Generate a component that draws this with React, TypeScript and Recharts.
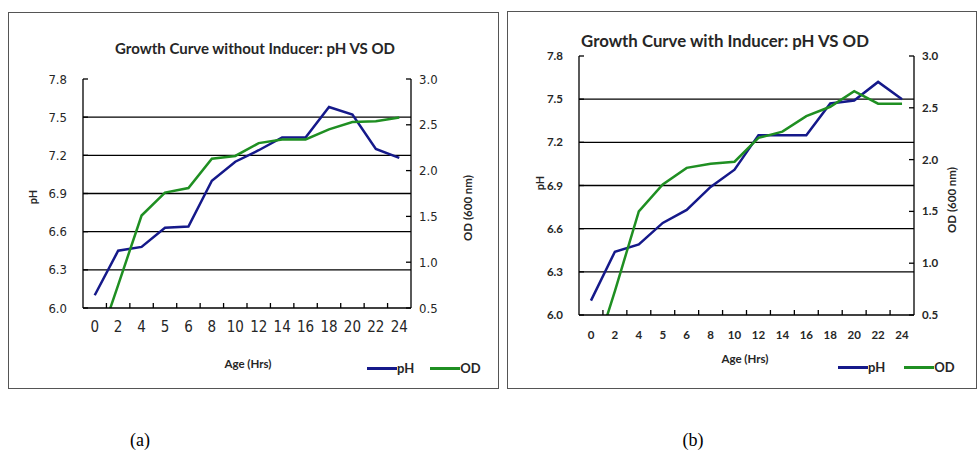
import React from 'react';
import { LineChart, Line, XAxis, YAxis, ReferenceLine, Legend } from 'recharts';

// ---------- data ----------
const hours = ['0', '2', '4', '5', '6', '8', '10', '12', '14', '16', '18', '20', '22', '24'];

const phWithout = [6.1, 6.45, 6.48, 6.63, 6.64, 7.0, 7.15, 7.24, 7.34, 7.34, 7.58, 7.52, 7.25, 7.18];
const odWithout = [0.0, 0.75, 1.51, 1.76, 1.81, 2.13, 2.16, 2.3, 2.34, 2.34, 2.45, 2.53, 2.54, 2.58];

const phWith = [6.1, 6.44, 6.49, 6.64, 6.73, 6.89, 7.01, 7.25, 7.25, 7.25, 7.47, 7.49, 7.62, 7.5];
const odWith = [0.0, 0.73, 1.5, 1.76, 1.92, 1.96, 1.98, 2.21, 2.27, 2.42, 2.51, 2.66, 2.54, 2.54];

const phTicks = [6.0, 6.3, 6.6, 6.9, 7.2, 7.5, 7.8];
const phGridLines = [6.3, 6.6, 6.9, 7.2, 7.5];
const odTicks = [0.5, 1.0, 1.5, 2.0, 2.5, 3.0];

const seriesOrder = ['pH', 'OD'];
const titleWithout = 'Growth Curve without Inducer: pH VS OD';
const titleWith = 'Growth Curve with Inducer: pH VS OD';
const xTitle = 'Age (Hrs)';
const yLeftTitle = 'pH';
const yRightTitle = 'OD (600 nm)';
const captions = ['(a)', '(b)'];

const buildRows = (ph: number[], od: number[]) =>
  hours.map((h, i) => ({ hour: h, pH: ph[i], OD: od[i] }));

const dataWithout = buildRows(phWithout, odWithout);
const dataWith = buildRows(phWith, odWith);

// ---------- styles ----------
const BLUE = '#15198a';
const GREEN = '#1f8f22';
const CAL = "Lato, 'Open Sans', sans-serif";
const NARROW = "'Liberation Sans Narrow', 'DejaVu Sans Condensed', 'Liberation Sans', sans-serif";
const Y_AXIS_W = 50;

type PanelProps = {
  data: { hour: string; pH: number; OD: number }[];
  left: number;
  top: number;
  width: number;
  height: number;
  margin: { top: number; right: number; bottom: number; left: number };
  title: string;
  titlePos: [number, number];
  titleSize: number;
  yTitlePos: [number, number];
  odTitlePos: [number, number];
  xTitlePos: [number, number];
  legendPos: [number, number];
  legendGap: number;
  tickFont: { fontFamily: string; fontWeight: number | string; ySize: number; xSize: number };
};

const Panel: React.FC<PanelProps> = (p) => {
  const tickStyleY = {
    fontFamily: p.tickFont.fontFamily,
    fontWeight: p.tickFont.fontWeight,
    fontSize: p.tickFont.ySize,
    fill: '#262626',
  };
  const plotW = p.width - p.margin.left - p.margin.right - 2 * Y_AXIS_W;
  const bandHalf = plotW / hours.length / 2;
  const XTick = (props: any) => {
    const { x, y, payload, index } = props;
    const half =
      payload && typeof payload.offset === 'number' && payload.offset > 0 ? payload.offset : bandHalf;
    return (
      <g>
        <text
          x={x}
          y={y + 19}
          textAnchor="middle"
          dominantBaseline="central"
          fontFamily={p.tickFont.fontFamily}
          fontWeight={p.tickFont.fontWeight}
          fontSize={p.tickFont.xSize}
          fill="#262626"
        >
          {payload.value}
        </text>
        {index < hours.length - 1 ? (
          <line x1={x + half} x2={x + half} y1={y} y2={y - 5} stroke="#000" strokeWidth={1.3} />
        ) : null}
      </g>
    );
  };
  const axisTitle: React.CSSProperties = {
    position: 'absolute',
    fontFamily: CAL,
    fontWeight: 700,
    color: '#262626',
    whiteSpace: 'nowrap',
    lineHeight: 1,
  };
  return (
    <div style={{ position: 'absolute', left: p.left, top: p.top, width: p.width, height: p.height }}>
      <div
        style={{
          position: 'absolute',
          left: p.titlePos[0],
          top: p.titlePos[1],
          transform: 'translate(-50%, -50%)',
          fontFamily: CAL,
          fontWeight: 700,
          fontSize: p.titleSize,
          color: '#262626',
          whiteSpace: 'nowrap',
          lineHeight: 1,
        }}
      >
        {p.title}
      </div>
      <div style={{ position: 'absolute', left: 0, top: 0 }}>
        <LineChart width={p.width} height={p.height} data={p.data} margin={p.margin}>
          <XAxis
            dataKey="hour"
            scale="band"
            interval={0}
            tickLine={false}
            tickSize={0}
            tickMargin={0}
            height={30}
            axisLine={{ stroke: '#000', strokeWidth: 1.3 }}
            tick={XTick}
          />
          <YAxis
            yAxisId="left"
            domain={[6.0, 7.8]}
            ticks={phTicks}
            allowDataOverflow
            width={Y_AXIS_W}
            tickSize={-5}
            tickMargin={21}
            tickFormatter={(v: number) => v.toFixed(1)}
            tick={tickStyleY}
            tickLine={{ stroke: '#000', strokeWidth: 1.3 }}
            axisLine={{ stroke: '#000', strokeWidth: 1.3 }}
          />
          <YAxis
            yAxisId="right"
            orientation="right"
            domain={[0.5, 3.0]}
            ticks={odTicks}
            allowDataOverflow
            width={Y_AXIS_W}
            tickSize={-5}
            tickMargin={13}
            tickFormatter={(v: number) => v.toFixed(1)}
            tick={tickStyleY}
            tickLine={{ stroke: '#000', strokeWidth: 1.3 }}
            axisLine={{ stroke: '#000', strokeWidth: 1.3 }}
          />
          {phGridLines.map((v) => (
            <ReferenceLine key={v} yAxisId="left" y={v} stroke="#000" strokeWidth={1.3} />
          ))}
          <Line
            yAxisId="left"
            dataKey="pH"
            name="pH"
            stroke={BLUE}
            strokeWidth={2.5}
            dot={false}
            activeDot={false}
            isAnimationActive={false}
          />
          <Line
            yAxisId="right"
            dataKey="OD"
            name="OD"
            stroke={GREEN}
            strokeWidth={2.5}
            dot={false}
            activeDot={false}
            isAnimationActive={false}
          />
          <Legend
            layout="horizontal"
            verticalAlign="middle"
            align="center"
            wrapperStyle={{
              position: 'absolute',
              left: p.legendPos[0],
              top: p.legendPos[1] - 8,
              width: 'auto',
              height: 16,
            }}
            content={(lp: any) => {
              const items = [...(lp.payload || [])].sort(
                (a: any, b: any) => seriesOrder.indexOf(a.value) - seriesOrder.indexOf(b.value)
              );
              return (
                <div style={{ display: 'flex', alignItems: 'center', height: 16 }}>
                  {items.map((e: any, i: number) => (
                    <div
                      key={i}
                      style={{ display: 'flex', alignItems: 'center', marginLeft: i === 0 ? 0 : p.legendGap }}
                    >
                      <span style={{ display: 'inline-block', width: 30, height: 3, background: e.color }} />
                      <span
                        style={{ fontFamily: CAL, fontWeight: 700, fontSize: 13, color: '#262626', lineHeight: 1 }}
                      >
                        {e.value}
                      </span>
                    </div>
                  ))}
                </div>
              );
            }}
          />
        </LineChart>
      </div>
      <div
        style={{
          ...axisTitle,
          fontSize: 11,
          left: p.yTitlePos[0],
          top: p.yTitlePos[1],
          transform: 'translate(-50%, -50%) rotate(-90deg)',
        }}
      >
        {yLeftTitle}
      </div>
      <div
        style={{
          ...axisTitle,
          fontSize: 11.5,
          left: p.odTitlePos[0],
          top: p.odTitlePos[1],
          transform: 'translate(-50%, -50%) rotate(-90deg)',
        }}
      >
        {yRightTitle}
      </div>
      <div
        style={{
          ...axisTitle,
          fontSize: 11.5,
          left: p.xTitlePos[0],
          top: p.xTitlePos[1],
          transform: 'translate(-50%, -50%)',
        }}
      >
        {xTitle}
      </div>
      <div
        style={{
          position: 'absolute',
          left: 0,
          top: 0,
          width: p.width,
          height: p.height,
          boxSizing: 'border-box',
          border: '1px solid #555',
          pointerEvents: 'none',
        }}
      />
    </div>
  );
};

export default function App() {
  return (
    <div
      style={{
        position: 'absolute',
        left: 0,
        top: 0,
        width: 979,
        height: 450,
        background: '#fff',
        overflow: 'hidden',
      }}
    >
      <Panel
        data={dataWithout}
        left={8}
        top={12}
        width={491}
        height={377}
        margin={{ top: 67, right: 38, bottom: 51, left: 25 }}
        title={titleWithout}
        titlePos={[247, 36]}
        titleSize={15}
        yTitlePos={[24, 185]}
        odTitlePos={[460, 196]}
        xTitlePos={[240, 352]}
        legendPos={[359, 356]}
        legendGap={16}
        tickFont={{ fontFamily: NARROW, fontWeight: 400, ySize: 13, xSize: 15 }}
      />
      <Panel
        data={dataWith}
        left={507}
        top={11}
        width={470}
        height={378}
        margin={{ top: 45, right: 13, bottom: 44, left: 22 }}
        title={titleWith}
        titlePos={[218, 30]}
        titleSize={16.8}
        yTitlePos={[32, 172]}
        odTitlePos={[445, 189]}
        xTitlePos={[238, 348]}
        legendPos={[331, 356]}
        legendGap={19}
        tickFont={{ fontFamily: CAL, fontWeight: 700, ySize: 11.5, xSize: 11.5 }}
      />
      <div
        style={{
          position: 'absolute',
          left: 140,
          top: 440,
          transform: 'translate(-50%, -50%)',
          fontFamily: "'Liberation Serif', 'DejaVu Serif', serif",
          fontSize: 18,
          color: '#000',
          lineHeight: 1,
        }}
      >
        {captions[0]}
      </div>
      <div
        style={{
          position: 'absolute',
          left: 693,
          top: 440,
          transform: 'translate(-50%, -50%)',
          fontFamily: "'Liberation Serif', 'DejaVu Serif', serif",
          fontSize: 18,
          color: '#000',
          lineHeight: 1,
        }}
      >
        {captions[1]}
      </div>
    </div>
  );
}
